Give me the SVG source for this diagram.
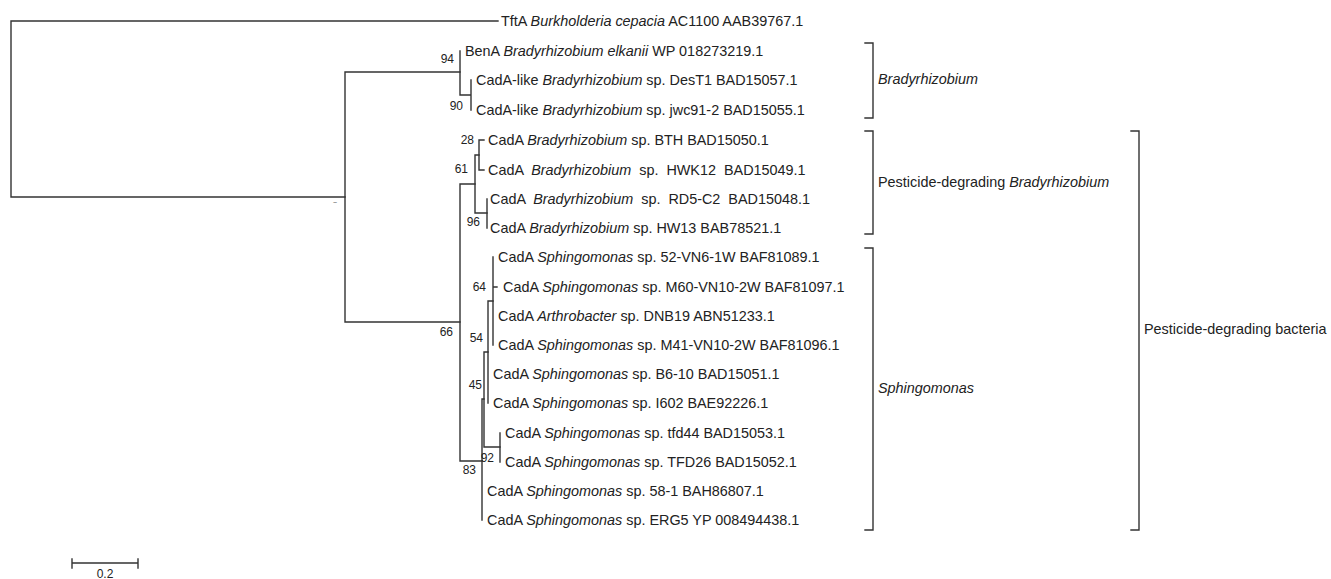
<svg xmlns="http://www.w3.org/2000/svg" width="1331" height="579" viewBox="0 0 1331 579">
<style>
.br{fill:none;stroke:#333;stroke-width:1.4;stroke-linecap:square}
.lf{font-family:"Liberation Sans",Arial,sans-serif;font-size:14.4px;fill:#222}
.bs{font-family:"Liberation Sans",Arial,sans-serif;font-size:12px;fill:#222;text-anchor:end}
.it{font-style:italic}
</style>
<rect width="1331" height="579" fill="#fff"/>
<g id="connectors">
<path class="br" d="M11,21 V197 M11,21 H498 M11,197 H345"/>
<path class="br" d="M345,72 V322 M345,72 H460 M345,322 H460"/>
<path class="br" d="M460,51 V95 M460,95 H471 M471,80 V110"/>
<path class="br" d="M460,184 V461 M460,184 H475 M460,461 H482"/>
<path class="br" d="M475,155 V213 M475,155 H479 M475,213 H487"/>
<path class="br" d="M479,140 V170 M479,140 H484 M479,170 H484"/>
<path class="br" d="M487,199 V228"/>
<path class="br" d="M482,399 V520 M482,399 H484"/>
<path class="br" d="M484,352 V447 M484,352 H488 M484,447 H500"/>
<path class="br" d="M488,301 V403 M488,301 H493"/>
<path class="br" d="M493,257 V345 M493,287 H497"/>
<path class="br" d="M500,433 V462"/>
</g>
<g id="leaves">
<text class="lf" x="501" y="26">TftA <tspan class="it">Burkholderia cepacia</tspan> AC1100 AAB39767.1</text>
<text class="lf" x="465" y="56">BenA <tspan class="it">Bradyrhizobium elkanii</tspan> WP 018273219.1</text>
<text class="lf" x="476" y="85">CadA-like <tspan class="it">Bradyrhizobium</tspan> sp. DesT1 BAD15057.1</text>
<text class="lf" x="476" y="115">CadA-like <tspan class="it">Bradyrhizobium</tspan> sp. jwc91-2 BAD15055.1</text>
<text class="lf" x="488" y="145">CadA <tspan class="it">Bradyrhizobium</tspan> sp. BTH BAD15050.1</text>
<text class="lf" x="488" y="175" xml:space="preserve">CadA  <tspan class="it">Bradyrhizobium</tspan>  sp.  HWK12  BAD15049.1</text>
<text class="lf" x="490" y="204" xml:space="preserve">CadA  <tspan class="it">Bradyrhizobium</tspan>  sp.  RD5-C2  BAD15048.1</text>
<text class="lf" x="490" y="233">CadA <tspan class="it">Bradyrhizobium</tspan> sp. HW13 BAB78521.1</text>
<text class="lf" x="498" y="262">CadA <tspan class="it">Sphingomonas</tspan> sp. 52-VN6-1W BAF81089.1</text>
<text class="lf" x="503" y="292">CadA <tspan class="it">Sphingomonas</tspan> sp. M60-VN10-2W BAF81097.1</text>
<text class="lf" x="498" y="321">CadA <tspan class="it">Arthrobacter</tspan> sp. DNB19 ABN51233.1</text>
<text class="lf" x="498" y="350">CadA <tspan class="it">Sphingomonas</tspan> sp. M41-VN10-2W BAF81096.1</text>
<text class="lf" x="493" y="379">CadA <tspan class="it">Sphingomonas</tspan> sp. B6-10 BAD15051.1</text>
<text class="lf" x="493" y="408">CadA <tspan class="it">Sphingomonas</tspan> sp. I602 BAE92226.1</text>
<text class="lf" x="505" y="438">CadA <tspan class="it">Sphingomonas</tspan> sp. tfd44 BAD15053.1</text>
<text class="lf" x="505" y="467">CadA <tspan class="it">Sphingomonas</tspan> sp. TFD26 BAD15052.1</text>
<text class="lf" x="487" y="496">CadA <tspan class="it">Sphingomonas</tspan> sp. 58-1 BAH86807.1</text>
<text class="lf" x="487" y="525">CadA <tspan class="it">Sphingomonas</tspan> sp. ERG5 YP 008494438.1</text>
</g>
<g id="bootstrap">
<text class="bs" x="454" y="63">94</text>
<text class="bs" x="463" y="110">90</text>
<text class="bs" x="474" y="144">28</text>
<text class="bs" x="468" y="173">61</text>
<text class="bs" x="480" y="226">96</text>
<text class="bs" x="453" y="336">66</text>
<text class="bs" x="486" y="291">64</text>
<text class="bs" x="483" y="342">54</text>
<text class="bs" x="482" y="389">45</text>
<text class="bs" x="494" y="462">92</text>
<text class="bs" x="476" y="474">83</text>
<text class="bs" x="337" y="205" style="font-size:7px;fill:#555">~</text>
</g>
<g id="clades">
<path class="br" d="M865,43 H873 V118 H865"/>
<path class="br" d="M865,131 H873 V234 H865"/>
<path class="br" d="M865,248 H873 V530 H865"/>
<path class="br" d="M1131,131 H1139 V530 H1131"/>
<text class="lf it" x="878" y="84">Bradyrhizobium</text>
<text class="lf" x="878" y="187">Pesticide-degrading <tspan class="it">Bradyrhizobium</tspan></text>
<text class="lf it" x="878" y="393">Sphingomonas</text>
<text class="lf" x="1144" y="334">Pesticide-degrading bacteria</text>
</g>
<g id="scale">
<path class="br" d="M72,563 H138 M72,559 V568 M138,559 V568"/>
<text class="bs" x="105" y="578" style="text-anchor:middle">0.2</text>
</g>
</svg>
